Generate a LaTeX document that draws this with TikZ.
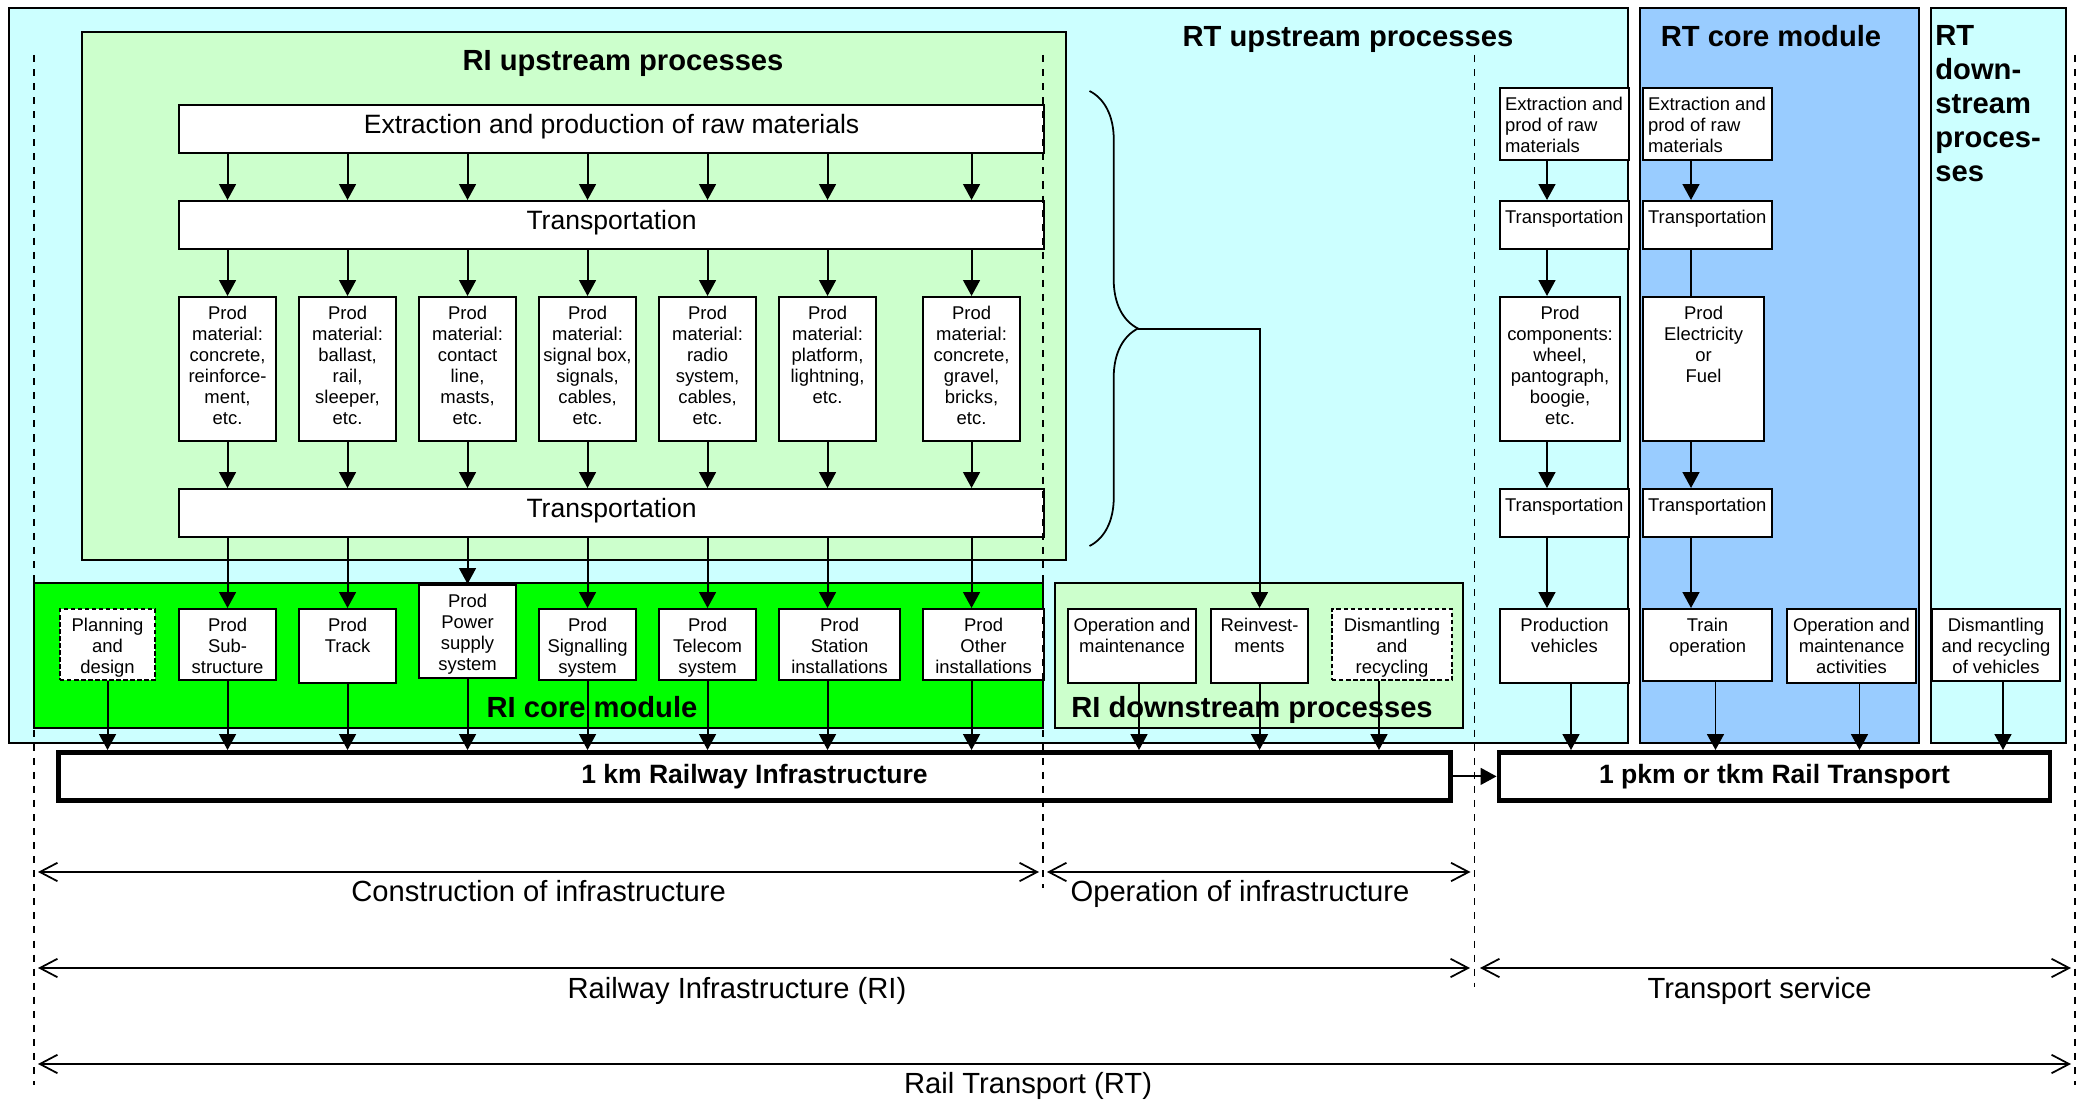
\documentclass[tikz,border=0pt]{standalone}
\usepackage{fontspec}
\setmainfont{Liberation Sans}
\usetikzlibrary{arrows.meta,decorations.pathreplacing}

\newlength{\pxu}
\setlength{\pxu}{0.02cm}
\newcommand{\smallsize}{\fontsize{10.5pt}{12.06pt}\selectfont}
\newcommand{\bigsize}{\fontsize{15.1pt}{18pt}\selectfont}
\newcommand{\titlesize}{\fontsize{16.6pt}{19.35pt}\selectfont\bfseries}
\newcommand{\spansize}{\fontsize{16.6pt}{19pt}\selectfont}
% box text: [first baseline]{width}{height}{text}
\newcommand{\boxtxt}[4][22]{\parbox[c][#3\pxu][t]{#2\pxu}{\centering\rule{0pt}{#1\pxu}#4}}
\newcommand{\lboxtxt}[3]{\parbox[c][#2\pxu][t]{#1\pxu}{\raggedright\leftskip=5\pxu\rule{0pt}{22\pxu}#3}}

\definecolor{rtcyan}{HTML}{CCFFFF}
\definecolor{rigreen}{HTML}{CCFFCC}
\definecolor{coregreen}{HTML}{00FF00}
\definecolor{coreblue}{HTML}{99CCFF}

\tikzset{
  region/.style={draw=black, line width=1pt},
  proc/.style={draw, fill=white, line width=1.2pt, inner sep=0pt, anchor=north west, font=\smallsize},
  optproc/.style={proc, dash pattern=on 2.5pt off 1.5pt},
  unit/.style={draw, fill=white, line width=2.8pt, inner sep=0pt, font=\bigsize\bfseries},
  flow/.style={line width=1.1pt, -{Triangle[length=9pt,width=9.5pt]}},
  link/.style={line width=1.1pt},
  border/.style={line width=0.8pt, dash pattern=on 4pt off 4pt},
  span/.style={line width=1pt, {Straight Barb[length=10pt,width=10.5pt]}-{Straight Barb[length=10pt,width=10.5pt]}},
  title/.style={font=\titlesize, inner sep=0pt, anchor=base},
  spanlabel/.style={font=\spansize, inner sep=0pt, anchor=base},
}

\begin{document}
\begin{tikzpicture}[x=0.02cm, y=-0.02cm]
  \useasboundingbox (0,0) rectangle (2080,1101);

  % regions
  \draw[region, fill=rtcyan] (9,8) rectangle (1628,743);
  \draw[region, fill=rigreen] (82,32) rectangle (1066,560);
  \draw[region, fill=coregreen] (34,583) rectangle (1043,728);
  \draw[region, fill=rigreen] (1055,583) rectangle (1463,728);
  \draw[region, fill=coreblue] (1640,8) rectangle (1919,743);
  \draw[region, fill=rtcyan] (1931,8) rectangle (2066,743);

  \node[title] (riup) at (623,70.5) {RI upstream processes};
  \node[title] (rtup) at (1348,46.5) {RT upstream processes};
  \node[title] (rtcore) at (1771,46.5) {RT core module};
  \node[title, anchor=north west, align=left] (rtdown) at (1935,25.5)
    {RT\\down-\\stream\\proces-\\ses};
  \node[title] (ricore) at (592,717.5) {RI core module};
  \node[title] (ridown) at (1252,717.5) {RI downstream processes};

  % RI upstream
  \node[proc, font=\bigsize] (ext) at (178,104)
    {\boxtxt[28]{865}{48}{Extraction and production of raw materials}};
  \node[proc, font=\bigsize] (tr1) at (178,200) {\boxtxt[28.5]{865}{48}{Transportation}};
  \node[proc] (pm1) at (178,296) {\boxtxt{97}{144}{Prod\\material:\\concrete,\\reinforce-\\ment,\\etc.}};
  \node[proc] (pm2) at (298,296) {\boxtxt{97}{144}{Prod\\material:\\ballast,\\rail,\\sleeper,\\etc.}};
  \node[proc] (pm3) at (418,296) {\boxtxt{97}{144}{Prod\\material:\\contact\\line,\\masts,\\etc.}};
  \node[proc] (pm4) at (538,296) {\boxtxt{97}{144}{Prod\\material:\\signal box,\\signals,\\cables,\\etc.}};
  \node[proc] (pm5) at (658,296) {\boxtxt{97}{144}{Prod\\material:\\radio\\system,\\cables,\\etc.}};
  \node[proc] (pm6) at (778,296) {\boxtxt{97}{144}{Prod\\material:\\platform,\\lightning,\\etc.}};
  \node[proc] (pm7) at (922,296) {\boxtxt{97}{144}{Prod\\material:\\concrete,\\gravel,\\bricks,\\etc.}};
  \node[proc, font=\bigsize] (tr2) at (178,488) {\boxtxt[28]{865}{48}{Transportation}};

  % RI core module
  \node[optproc] (plan) at (59,608) {\boxtxt{95}{71}{Planning\\and\\design}};
  \node[proc] (sub) at (178,608) {\boxtxt{97}{71}{Prod\\Sub-\\structure}};
  \node[proc] (track) at (298,608) {\boxtxt{97}{74}{Prod\\Track}};
  \node[proc] (power) at (418,584) {\boxtxt{97}{93}{Prod\\Power\\supply\\system}};
  \node[proc] (sig) at (538,608) {\boxtxt{97}{71}{Prod\\Signalling\\system}};
  \node[proc] (tel) at (658,608) {\boxtxt{97}{71}{Prod\\Telecom\\system}};
  \node[proc] (stat) at (778,608) {\boxtxt{121}{71}{Prod\\Station\\installations}};
  \node[proc] (oth) at (922,608) {\boxtxt{121}{71}{Prod\\Other\\installations}};

  % RI downstream
  \node[proc] (om) at (1067,608) {\boxtxt{128}{74}{Operation and\\maintenance}};
  \node[proc] (reinv) at (1210,608) {\boxtxt{97}{74}{Reinvest-\\ments}};
  \node[optproc] (dism) at (1331,608) {\boxtxt{120}{71}{Dismantling\\and\\recycling}};

  % RT upstream
  \node[proc] (ruext) at (1499,87) {\lboxtxt{129}{72}{Extraction and\\prod of raw\\materials}};
  \node[proc] (rutr1) at (1499,200) {\lboxtxt{129}{48}{Transportation}};
  \node[proc] (rucomp) at (1499,296) {\boxtxt{120}{144}{Prod\\components:\\wheel,\\pantograph,\\boogie,\\etc.}};
  \node[proc] (rutr2) at (1499,488) {\lboxtxt{129}{48}{Transportation}};
  \node[proc] (ruveh) at (1499,608) {\boxtxt{129}{74}{Production\\vehicles}};

  % RT core module
  \node[proc] (rcext) at (1642,87) {\lboxtxt{129}{72}{Extraction and\\prod of raw\\materials}};
  \node[proc] (rctr1) at (1642,200) {\lboxtxt{129}{48}{Transportation}};
  \node[proc] (rcelec) at (1642,296) {\boxtxt{121}{144}{Prod\\Electricity\\or\\Fuel}};
  \node[proc] (rctr2) at (1642,488) {\lboxtxt{129}{48}{Transportation}};
  \node[proc] (rctrain) at (1642,608) {\boxtxt{129}{72}{Train\\operation}};
  \node[proc] (rcom) at (1786,608) {\boxtxt{129}{74}{Operation and\\maintenance\\activities}};

  % RT downstream
  \node[proc] (rdveh) at (1931,608) {\boxtxt{128}{72}{Dismantling\\and recycling\\of vehicles}};

  % functional units
  \node[unit, minimum width=1392\pxu, minimum height=47.8\pxu] (km) at (754.5,776.4)
    {1 km Railway Infrastructure};
  \node[unit, minimum width=551\pxu, minimum height=47.8\pxu] (pkm) at (1774.5,776.4)
    {1 pkm or tkm Rail Transport};

  % columns
  \coordinate (omx) at (1139,0);
  \coordinate (dmx) at (1379,0);
  \coordinate (ruc) at (1547,0);
  \coordinate (pvx) at (1571,0);
  \coordinate (rcc) at (1691,0);
  \coordinate (tox) at (1715.5,0);
  \coordinate (omax) at (1859.5,0);
  \coordinate (dvx) at (2003,0);

  % brace to reinvestments
  \coordinate (brtop) at (1089.5,91);
  \coordinate (brbot) at (1089.5,546);
  \coordinate (brtip) at (1138,328.6);
  \draw[line width=1pt, decorate, decoration={brace, amplitude=48.5\pxu, aspect=0.522}]
    (brtop) -- (brbot);
  \draw[flow] (brtip) -| (reinv.north);

  % RI upstream flows
  \draw[flow] (ext.south -| pm1) -- (tr1.north -| pm1);
  \draw[flow] (ext.south -| pm2) -- (tr1.north -| pm2);
  \draw[flow] (ext.south -| pm3) -- (tr1.north -| pm3);
  \draw[flow] (ext.south -| pm4) -- (tr1.north -| pm4);
  \draw[flow] (ext.south -| pm5) -- (tr1.north -| pm5);
  \draw[flow] (ext.south -| pm6) -- (tr1.north -| pm6);
  \draw[flow] (ext.south -| pm7) -- (tr1.north -| pm7);
  \draw[flow] (tr1.south -| pm1) -- (pm1.north);
  \draw[flow] (tr1.south -| pm2) -- (pm2.north);
  \draw[flow] (tr1.south -| pm3) -- (pm3.north);
  \draw[flow] (tr1.south -| pm4) -- (pm4.north);
  \draw[flow] (tr1.south -| pm5) -- (pm5.north);
  \draw[flow] (tr1.south -| pm6) -- (pm6.north);
  \draw[flow] (tr1.south -| pm7) -- (pm7.north);
  \draw[flow] (pm1.south) -- (tr2.north -| pm1);
  \draw[flow] (pm2.south) -- (tr2.north -| pm2);
  \draw[flow] (pm3.south) -- (tr2.north -| pm3);
  \draw[flow] (pm4.south) -- (tr2.north -| pm4);
  \draw[flow] (pm5.south) -- (tr2.north -| pm5);
  \draw[flow] (pm6.south) -- (tr2.north -| pm6);
  \draw[flow] (pm7.south) -- (tr2.north -| pm7);

  % into RI core module
  \draw[flow] (tr2.south -| sub) -- (sub.north);
  \draw[flow] (tr2.south -| track) -- (track.north);
  \draw[flow] (tr2.south -| power) -- (power.north);
  \draw[flow] (tr2.south -| sig) -- (sig.north);
  \draw[flow] (tr2.south -| tel) -- (tel.north);
  \draw[flow] (tr2.south -| pm6) -- (stat.north -| pm6);
  \draw[flow] (tr2.south -| pm7) -- (oth.north -| pm7);

  % to 1 km
  \draw[flow] (plan.south) -- (km.north -| plan);
  \draw[flow] (sub.south) -- (km.north -| sub);
  \draw[flow] (track.south) -- (km.north -| track);
  \draw[flow] (power.south) -- (km.north -| power);
  \draw[flow] (sig.south) -- (km.north -| sig);
  \draw[flow] (tel.south) -- (km.north -| tel);
  \draw[flow] (stat.south -| pm6) -- (km.north -| pm6);
  \draw[flow] (oth.south -| pm7) -- (km.north -| pm7);
  \draw[flow] (om.south -| omx) -- (km.north -| omx);
  \draw[flow] (reinv.south) -- (km.north -| reinv);
  \draw[flow] (dism.south -| dmx) -- (km.north -| dmx);

  % RT flows
  \draw[flow] (ruext.south -| ruc) -- (rutr1.north -| ruc);
  \draw[flow] (rutr1.south -| ruc) -- (rucomp.north -| ruc);
  \draw[flow] (rucomp.south -| ruc) -- (rutr2.north -| ruc);
  \draw[flow] (rutr2.south -| ruc) -- (ruveh.north -| ruc);
  \draw[flow] (rcext.south -| rcc) -- (rctr1.north -| rcc);
  \draw[link] (rctr1.south -| rcc) -- (rcelec.north -| rcc);
  \draw[flow] (rcelec.south -| rcc) -- (rctr2.north -| rcc);
  \draw[flow] (rctr2.south -| rcc) -- (rctrain.north -| rcc);

  % to 1 pkm
  \draw[flow] (ruveh.south -| pvx) -- (pkm.north -| pvx);
  \draw[flow] (rctrain.south -| tox) -- (pkm.north -| tox);
  \draw[flow] (rcom.south -| omax) -- (pkm.north -| omax);
  \draw[flow] (rdveh.south -| dvx) -- (pkm.north -| dvx);
  \draw[flow] (km) -- (pkm);

  % system borders
  \coordinate (b1t) at (34,55);     \coordinate (b1b) at (34,1085);
  \coordinate (b2t) at (1043,55);   \coordinate (b2b) at (1043,888);
  \coordinate (b3t) at (1474.5,55); \coordinate (b3b) at (1474.5,987);
  \coordinate (b4t) at (2075,55);   \coordinate (b4b) at (2075,1085);
  \draw[border] (b1t) -- (b1b);
  \draw[border] (b2t) -- (b2b);
  \draw[border] (b3t) -- (b3b);
  \draw[border] (b4t) -- (b4b);

  % spans
  \coordinate (cil) at (38,872);   \coordinate (cir) at (1039,872);
  \coordinate (oil) at (1047,872); \coordinate (oir) at (1470.5,872);
  \coordinate (ril) at (38,968);   \coordinate (rir) at (1470,968);
  \coordinate (tsl) at (1480,968); \coordinate (tsr) at (2071,968);
  \coordinate (rtl) at (38,1064);  \coordinate (rtr) at (2071,1064);
  \draw[span] (cil) -- (cir);
  \draw[span] (oil) -- (oir);
  \draw[span] (ril) -- (rir);
  \draw[span] (tsl) -- (tsr);
  \draw[span] (rtl) -- (rtr);
  \node[spanlabel] (ci) at (538.6,901.5) {Construction of infrastructure};
  \node[spanlabel] (oi) at (1240,901.5) {Operation of infrastructure};
  \node[spanlabel] (ri) at (737,998.5) {Railway Infrastructure (RI)};
  \node[spanlabel] (ts) at (1759.6,998.5) {Transport service};
  \node[spanlabel] (rt) at (1028,1093.5) {Rail Transport (RT)};
\end{tikzpicture}
\end{document}
